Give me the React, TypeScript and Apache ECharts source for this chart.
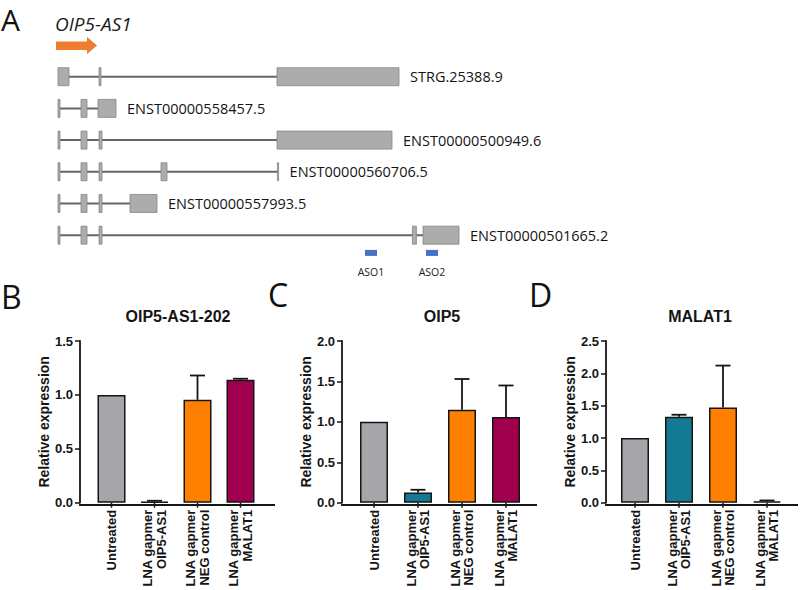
import React, { useEffect, useRef } from "react";
import * as echarts from "echarts";

// ---------- Panel A data (gene model, arbitrary genomic units) ----------
const geneName = "OIP5-AS1";
const transcriptNames = [
  "STRG.25388.9",
  "ENST00000558457.5",
  "ENST00000500949.6",
  "ENST00000560706.5",
  "ENST00000557993.5",
  "ENST00000501665.2",
];
const exonsSTRG = [[0, 2.75], [10.25, 10.75], [54.75, 85.25]];
const exons558457 = [[0, 0.5], [5.75, 7.25], [10, 14.5]];
const exons500949 = [[0, 0.5], [5.75, 7.25], [10.25, 11], [54.75, 83.5]];
const exons560706 = [[0, 0.5], [5.75, 7.25], [10.25, 11], [25.75, 27.25], [54.85, 55.15]];
const exons557993 = [[0, 0.5], [5.75, 7.25], [10.25, 11], [18, 24.75]];
const exons501665 = [[0, 0.5], [5.75, 7.25], [10.25, 11], [88.6, 89.6], [91.25, 100.25]];
const transcriptExons = [exonsSTRG, exons558457, exons500949, exons560706, exons557993, exons501665];

const asoNames = ["ASO1", "ASO2"];
const asoStarts = [76.75, 92];
const asoEnds = [79.75, 95];
const asoRow = 5.56;

// ---------- Panels B, C, D data ----------
const categories = ["Untreated", "LNA gapmer\nOIP5-AS1", "LNA gapmer\nNEG control", "LNA gapmer\nMALAT1"];
const barColors = ["#A6A5AA", "#147A94", "#FF8000", "#A1004E"];

const oip5as1Means = [1.0, 0.008, 0.955, 1.14];
const oip5as1ErrTop = [1.0, 0.018, 1.18, 1.15];
const oip5Means = [1.0, 0.125, 1.15, 1.06];
const oip5ErrTop = [1.0, 0.16, 1.53, 1.45];
const malat1Means = [1.0, 1.33, 1.47, 0.02];
const malat1ErrTop = [1.0, 1.36, 2.12, 0.035];

const panelTitles = ["OIP5-AS1-202", "OIP5", "MALAT1"];
const panelLetters = ["A", "B", "C", "D"];
const yMaxes = [1.5, 2.0, 2.5];
const yInterval = 0.5;
const yName = "Relative expression";

const panelMeans = [oip5as1Means, oip5Means, malat1Means];
const panelErrTop = [oip5as1ErrTop, oip5ErrTop, malat1ErrTop];

// ---------- layout ----------
const PLOT_TOP = 341;
const PLOT_H = 164;
const layouts = [
  { axisX: 80, left: 90, band: 43, end: 275, titleX: 178 },
  { axisX: 342, left: 352, band: 44, end: 537, titleX: 442 },
  { axisX: 606, left: 613, band: 44, end: 798, titleX: 700 },
];
const letterPos = [
  [1, 19],
  [1, 296],
  [268, 294],
  [529, 294],
];

const BAR_FONT = "'Liberation Sans', Arial, sans-serif";
const DIAG_FONT = "'Open Sans', 'Noto Sans', sans-serif";
const INK = "#151515";

export default function App() {
  const ref = useRef<HTMLDivElement>(null);

  useEffect(() => {
    document.body.style.margin = "0";
    if (!ref.current) return;
    const chart = echarts.init(ref.current, undefined, { renderer: "svg" });

    const grids: any[] = [];
    const xAxes: any[] = [];
    const yAxes: any[] = [];
    const series: any[] = [];
    const graphics: any[] = [];

    layouts.forEach((L, i) => {
      grids.push({ left: L.left, top: PLOT_TOP, width: L.band * 4, height: PLOT_H, containLabel: false });
      xAxes.push({
        type: "category",
        gridIndex: i,
        data: categories,
        axisLine: { show: false },
        axisTick: { show: false },
        axisLabel: {
          interval: 0,
          rotate: 90,
          margin: 7,
          fontFamily: BAR_FONT,
          fontWeight: "bold",
          fontSize: 13,
          lineHeight: 13.5,
          color: INK,
        },
        splitLine: { show: false },
      });
      yAxes.push({
        type: "value",
        gridIndex: i,
        min: 0,
        max: yMaxes[i],
        interval: yInterval,
        offset: L.left - L.axisX,
        axisLine: { show: true, lineStyle: { color: INK, width: 1.8 } },
        axisTick: { show: true, length: 5, lineStyle: { color: INK, width: 1.5 } },
        axisLabel: {
          margin: 7,
          formatter: (v: number) => v.toFixed(1),
          fontFamily: BAR_FONT,
          fontWeight: "bold",
          fontSize: 13,
          color: INK,
        },
        splitLine: { show: false },
        name: yName,
        nameLocation: "middle",
        nameGap: 27,
        nameTextStyle: { fontFamily: BAR_FONT, fontWeight: "bold", fontSize: 14, color: INK },
      });
      series.push({
        type: "bar",
        xAxisIndex: i,
        yAxisIndex: i,
        barWidth: 28,
        data: panelMeans[i].map((v, j) => ({ value: v, itemStyle: { color: barColors[j] } })),
        itemStyle: { borderColor: INK, borderWidth: 1.5 },
        z: 2,
      });
      // error bars (upper only) and category ticks under the axis
      series.push({
        type: "custom",
        xAxisIndex: i,
        yAxisIndex: i,
        z: 3,
        clip: false,
        encode: { x: 0, y: [1, 2] },
        data: panelMeans[i].map((v, j) => [j, v, panelErrTop[i][j]]),
        renderItem: (params: any, api: any) => {
          const c = api.value(0);
          const m = api.value(1);
          const t = api.value(2);
          const st = { stroke: INK, lineWidth: 1.8 };
          const base = api.coord([c, 0]);
          const children: any[] = [
            { type: "line", shape: { x1: base[0], y1: base[1], x2: base[0], y2: base[1] + 5 }, style: { stroke: INK, lineWidth: 1.5 } },
          ];
          if (t > m) {
            const p1 = api.coord([c, m]);
            const p2 = api.coord([c, t]);
            children.push({ type: "line", shape: { x1: p1[0], y1: p1[1], x2: p2[0], y2: p2[1] }, style: st });
            children.push({ type: "line", shape: { x1: p2[0] - 7.5, y1: p2[1], x2: p2[0] + 7.5, y2: p2[1] }, style: st });
          }
          return { type: "group", children };
        },
      });
      // x-axis baseline, from the y-axis to past the last bar
      const yBase = PLOT_TOP + PLOT_H;
      graphics.push({
        type: "line",
        z: 10,
        shape: { x1: L.axisX - 0.9, y1: yBase, x2: L.end, y2: yBase },
        style: { stroke: INK, lineWidth: 1.8 },
      });
      graphics.push({
        type: "text",
        x: L.titleX,
        y: 316,
        style: {
          text: panelTitles[i],
          fontFamily: BAR_FONT,
          fontWeight: "bold",
          fontSize: 16,
          fill: INK,
          align: "center",
          verticalAlign: "middle",
        },
      });
    });

    // Panel A grid
    grids.push({ left: 58, top: 60.85, width: 400, height: 206 });
    xAxes.push({ type: "value", gridIndex: 3, min: 0, max: 100, show: false });
    yAxes.push({ type: "value", gridIndex: 3, min: -0.5, max: 6, inverse: true, show: false });

    series.push({
      type: "custom",
      xAxisIndex: 3,
      yAxisIndex: 3,
      clip: false,
      encode: { x: 0, y: 1 },
      data: transcriptNames.map((n, i) => ({ name: n, value: [transcriptExons[i][0][0], i] })),
      renderItem: (params: any, api: any) => {
        const i = params.dataIndex;
        const ex = transcriptExons[i];
        const row = api.value(1);
        const a = api.coord([ex[0][0], row]);
        const b = api.coord([ex[ex.length - 1][1], row]);
        const children: any[] = [
          { type: "line", shape: { x1: a[0], y1: a[1], x2: b[0], y2: b[1] }, style: { stroke: "#666666", lineWidth: 2 } },
        ];
        ex.forEach((e) => {
          const p0 = api.coord([e[0], row]);
          const p1 = api.coord([e[1], row]);
          children.push({
            type: "rect",
            shape: { x: p0[0], y: p0[1] - 9, width: p1[0] - p0[0], height: 18 },
            style: { fill: "#ADABAC", stroke: "#878586", lineWidth: 0.8 },
          });
        });
        children.push({
          type: "text",
          x: b[0] + 11,
          y: b[1],
          style: {
            text: transcriptNames[i],
            fontFamily: DIAG_FONT,
            fontSize: 14.5,
            fill: "#141414",
            align: "left",
            verticalAlign: "middle",
          },
        });
        return { type: "group", children };
      },
    });

    series.push({
      type: "custom",
      xAxisIndex: 3,
      yAxisIndex: 3,
      clip: false,
      encode: { x: [0, 1], y: 2 },
      data: asoNames.map((n, i) => ({ name: n, value: [asoStarts[i], asoEnds[i], asoRow] })),
      renderItem: (params: any, api: any) => {
        const p0 = api.coord([api.value(0), api.value(2)]);
        const p1 = api.coord([api.value(1), api.value(2)]);
        return {
          type: "group",
          children: [
            {
              type: "rect",
              shape: { x: p0[0], y: p0[1] - 3, width: p1[0] - p0[0], height: 6 },
              style: { fill: "#4472C4" },
            },
            {
              type: "text",
              x: (p0[0] + p1[0]) / 2,
              y: p0[1] + 19,
              style: {
                text: asoNames[params.dataIndex],
                fontFamily: DIAG_FONT,
                fontSize: 10.5,
                fill: "#222",
                align: "center",
                verticalAlign: "middle",
              },
            },
          ],
        };
      },
    });

    // gene label and direction arrow
    graphics.push({
      type: "text",
      x: 55,
      y: 24,
      style: {
        text: geneName,
        fontFamily: DIAG_FONT,
        fontStyle: "italic",
        fontSize: 19,
        fill: "#1c1c1c",
        align: "left",
        verticalAlign: "middle",
      },
    });
    graphics.push({
      type: "polygon",
      shape: {
        points: [[56, 41.5], [87, 41.5], [87, 37], [97, 45.5], [87, 54], [87, 50], [56, 50]],
      },
      style: { fill: "#EE7D31" },
    });

    panelLetters.forEach((t, i) => {
      graphics.push({
        type: "text",
        x: letterPos[i][0],
        y: letterPos[i][1],
        style: {
          text: t,
          fontFamily: DIAG_FONT,
          fontSize: i === 0 ? 30 : 32,
          fill: "#111",
          align: "left",
          verticalAlign: "middle",
        },
      });
    });

    chart.setOption({
      animation: false,
      backgroundColor: "#ffffff",
      grid: grids,
      xAxis: xAxes,
      yAxis: yAxes,
      series,
      graphic: graphics,
    });

    return () => chart.dispose();
  }, []);

  return <div ref={ref} style={{ width: 800, height: 590 }} />;
}
